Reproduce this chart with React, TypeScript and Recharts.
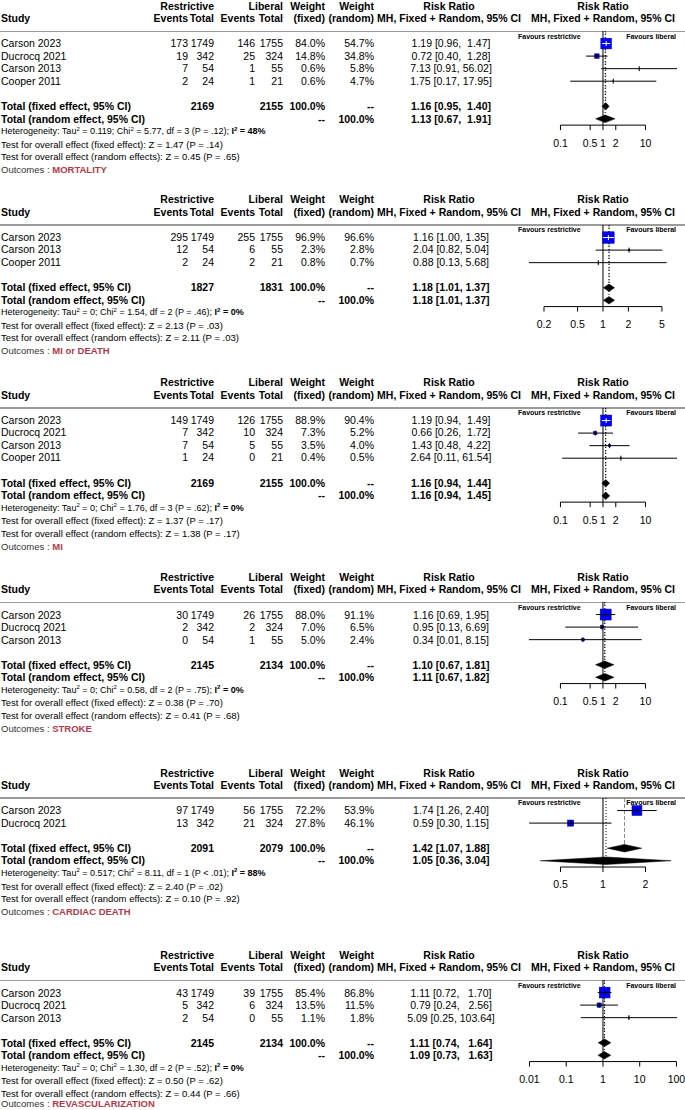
import React from 'react';
import { ScatterChart, Scatter, XAxis, YAxis, ReferenceLine } from 'recharts';

type Study = { name: string; e1: number; n1: number; e2: number; n2: number; wf: number; wr: number; rr: number; lo: number; hi: number };
type Het = { tau: string; chi: string; df: number; p: string; i2: number };
type Tests = { zf: string; pf: string; zr: string; pr: string };

// MORTALITY
const mortalityStudies: Study[] = [
  { name: 'Carson 2023', e1: 173, n1: 1749, e2: 146, n2: 1755, wf: 84.0, wr: 54.7, rr: 1.19, lo: 0.96, hi: 1.47 },
  { name: 'Ducrocq 2021', e1: 19, n1: 342, e2: 25, n2: 324, wf: 14.8, wr: 34.8, rr: 0.72, lo: 0.4, hi: 1.28 },
  { name: 'Carson 2013', e1: 7, n1: 54, e2: 1, n2: 55, wf: 0.6, wr: 5.8, rr: 7.13, lo: 0.91, hi: 56.02 },
  { name: 'Cooper 2011', e1: 2, n1: 24, e2: 1, n2: 21, wf: 0.6, wr: 4.7, rr: 1.75, lo: 0.17, hi: 17.95 },
];
const mortalityFixed = [1.16, 0.95, 1.4];
const mortalityRandom = [1.13, 0.67, 1.91];
const mortalityTicks = [0.1, 0.5, 1, 2, 10];
const mortalityXlim = [0.0182, 55.1];
const mortalityHet: Het = { tau: '0.119', chi: '5.77', df: 3, p: '= .12', i2: 48 };
const mortalityTests: Tests = { zf: '1.47', pf: '.14', zr: '0.45', pr: '.65' };

// MI or DEATH
const miDeathStudies: Study[] = [
  { name: 'Carson 2023', e1: 295, n1: 1749, e2: 255, n2: 1755, wf: 96.9, wr: 96.6, rr: 1.16, lo: 1.0, hi: 1.35 },
  { name: 'Carson 2013', e1: 12, n1: 54, e2: 6, n2: 55, wf: 2.3, wr: 2.8, rr: 2.04, lo: 0.82, hi: 5.04 },
  { name: 'Cooper 2011', e1: 2, n1: 24, e2: 2, n2: 21, wf: 0.8, wr: 0.7, rr: 0.88, lo: 0.13, hi: 5.68 },
];
const miDeathFixed = [1.18, 1.01, 1.37];
const miDeathRandom = [1.18, 1.01, 1.37];
const miDeathTicks = [0.2, 0.5, 1, 2, 5];
const miDeathXlim = [0.1328, 7.53];
const miDeathHet: Het = { tau: '0', chi: '1.54', df: 2, p: '= .46', i2: 0 };
const miDeathTests: Tests = { zf: '2.13', pf: '.03', zr: '2.11', pr: '.03' };

// MI
const miStudies: Study[] = [
  { name: 'Carson 2023', e1: 149, n1: 1749, e2: 126, n2: 1755, wf: 88.9, wr: 90.4, rr: 1.19, lo: 0.94, hi: 1.49 },
  { name: 'Ducrocq 2021', e1: 7, n1: 342, e2: 10, n2: 324, wf: 7.3, wr: 5.2, rr: 0.66, lo: 0.26, hi: 1.72 },
  { name: 'Carson 2013', e1: 7, n1: 54, e2: 5, n2: 55, wf: 3.5, wr: 4.0, rr: 1.43, lo: 0.48, hi: 4.22 },
  { name: 'Cooper 2011', e1: 1, n1: 24, e2: 0, n2: 21, wf: 0.4, wr: 0.5, rr: 2.64, lo: 0.11, hi: 61.54 },
];
const miFixed = [1.16, 0.94, 1.44];
const miRandom = [1.16, 0.94, 1.45];
const miTicks = [0.1, 0.5, 1, 2, 10];
const miXlim = [0.0182, 55.1];
const miHet: Het = { tau: '0', chi: '1.76', df: 3, p: '= .62', i2: 0 };
const miTests: Tests = { zf: '1.37', pf: '.17', zr: '1.38', pr: '.17' };

// STROKE
const strokeStudies: Study[] = [
  { name: 'Carson 2023', e1: 30, n1: 1749, e2: 26, n2: 1755, wf: 88.0, wr: 91.1, rr: 1.16, lo: 0.69, hi: 1.95 },
  { name: 'Ducrocq 2021', e1: 2, n1: 342, e2: 2, n2: 324, wf: 7.0, wr: 6.5, rr: 0.95, lo: 0.13, hi: 6.69 },
  { name: 'Carson 2013', e1: 0, n1: 54, e2: 1, n2: 55, wf: 5.0, wr: 2.4, rr: 0.34, lo: 0.01, hi: 8.15 },
];
const strokeFixed = [1.1, 0.67, 1.81];
const strokeRandom = [1.11, 0.67, 1.82];
const strokeTicks = [0.1, 0.5, 1, 2, 10];
const strokeXlim = [0.0182, 55.1];
const strokeHet: Het = { tau: '0', chi: '0.58', df: 2, p: '= .75', i2: 0 };
const strokeTests: Tests = { zf: '0.38', pf: '.70', zr: '0.41', pr: '.68' };

// CARDIAC DEATH
const cardiacStudies: Study[] = [
  { name: 'Carson 2023', e1: 97, n1: 1749, e2: 56, n2: 1755, wf: 72.2, wr: 53.9, rr: 1.74, lo: 1.26, hi: 2.4 },
  { name: 'Ducrocq 2021', e1: 13, n1: 342, e2: 21, n2: 324, wf: 27.8, wr: 46.1, rr: 0.59, lo: 0.3, hi: 1.15 },
];
const cardiacFixed = [1.42, 1.07, 1.88];
const cardiacRandom = [1.05, 0.36, 3.04];
const cardiacTicks = [0.5, 1, 2];
const cardiacXlim = [0.2992, 3.342];
const cardiacHet: Het = { tau: '0.517', chi: '8.11', df: 1, p: '< .01', i2: 88 };
const cardiacTests: Tests = { zf: '2.40', pf: '.02', zr: '0.10', pr: '.92' };

// REVASCULARIZATION
const revascStudies: Study[] = [
  { name: 'Carson 2023', e1: 43, n1: 1749, e2: 39, n2: 1755, wf: 85.4, wr: 86.8, rr: 1.11, lo: 0.72, hi: 1.7 },
  { name: 'Ducrocq 2021', e1: 5, n1: 342, e2: 6, n2: 324, wf: 13.5, wr: 11.5, rr: 0.79, lo: 0.24, hi: 2.56 },
  { name: 'Carson 2013', e1: 2, n1: 54, e2: 0, n2: 55, wf: 1.1, wr: 1.8, rr: 5.09, lo: 0.25, hi: 103.64 },
];
const revascFixed = [1.11, 0.74, 1.64];
const revascRandom = [1.09, 0.73, 1.63];
const revascTicks = [0.01, 0.1, 1, 10, 100];
const revascXlim = [0.00969, 103.2];
const revascHet: Het = { tau: '0', chi: '1.30', df: 2, p: '= .52', i2: 0 };
const revascTests: Tests = { zf: '0.50', pf: '.62', zr: '0.44', pr: '.66' };

const panels = [
  { outcome: 'MORTALITY', studies: mortalityStudies, fixed: mortalityFixed, random: mortalityRandom, ticks: mortalityTicks, xlim: mortalityXlim, het: mortalityHet, tests: mortalityTests },
  { outcome: 'MI or DEATH', studies: miDeathStudies, fixed: miDeathFixed, random: miDeathRandom, ticks: miDeathTicks, xlim: miDeathXlim, het: miDeathHet, tests: miDeathTests },
  { outcome: 'MI', studies: miStudies, fixed: miFixed, random: miRandom, ticks: miTicks, xlim: miXlim, het: miHet, tests: miTests },
  { outcome: 'STROKE', studies: strokeStudies, fixed: strokeFixed, random: strokeRandom, ticks: strokeTicks, xlim: strokeXlim, het: strokeHet, tests: strokeTests },
  { outcome: 'CARDIAC DEATH', studies: cardiacStudies, fixed: cardiacFixed, random: cardiacRandom, ticks: cardiacTicks, xlim: cardiacXlim, het: cardiacHet, tests: cardiacTests },
  { outcome: 'REVASCULARIZATION', studies: revascStudies, fixed: revascFixed, random: revascRandom, ticks: revascTicks, xlim: revascXlim, het: revascHet, tests: revascTests },
];
type PanelData = (typeof panels)[number];

// layout
const W = 685;
const H = 1110;
const R = 12.55; // row step
const PANEL_Y = [43.8, 237.3, 420.3, 615, 810.7, 993]; // y of first study row
const COL = { ev1: 188, tot1: 214, ev2: 255, tot2: 283, wf: 325, wr: 374, rr: 451, plot: 603 };
const PLOT_L = 529;
const PLOT_R = 677;
const SQ = 1.17; // square side per sqrt(weight)
const DH = 0.3; // diamond half height, in rows
const FONT = '"Liberation Sans", Arial, Helvetica, sans-serif';
const RED = '#b03a4a';
const LH = 9;

const Txt = ({ x, y, a = 'l', b = false, size = 10.5, color = '#000', children }: any) => {
  const style: React.CSSProperties = {
    position: 'absolute', top: y - LH / 2, height: LH, lineHeight: `${LH}px`,
    fontSize: size, fontWeight: b ? 'bold' : 'normal', color, whiteSpace: 'pre',
  };
  if (a === 'l') style.left = x;
  else if (a === 'r') style.right = W - x;
  else { style.left = x - 150; style.width = 300; style.textAlign = 'center'; }
  return <div style={style}>{children}</div>;
};

const Sup = ({ children }: any) => (
  <span style={{ fontSize: 6, position: 'relative', top: -3.5 }}>{children}</span>
);

const Nothing = () => <g />;

const Square = (props: any) => {
  const s = SQ * Math.sqrt(props.payload.w);
  return <rect x={props.cx - s / 2} y={props.cy - s / 2} width={s} height={s} fill="#0000ff" stroke="#000080" strokeWidth={0.5} />;
};

function renderCI(lp: any, studies: Study[]) {
  const pts = lp.points || [];
  return (
    <g>
      {studies.map((s, i) => {
        const a = pts[3 * i], m = pts[3 * i + 1], b = pts[3 * i + 2];
        if (!a || !m || !b) return null;
        const h = (SQ * Math.sqrt(s.wf)) / 2;
        const c = a.x >= m.x - h && b.x <= m.x + h ? '#fff' : '#000';
        return (
          <g key={i}>
            <line x1={a.x} x2={b.x} y1={a.y} y2={a.y} stroke={c} strokeWidth={1} />
            <line x1={m.x} x2={m.x} y1={m.y - 2.5} y2={m.y + 2.5} stroke={c} strokeWidth={1} />
          </g>
        );
      })}
    </g>
  );
}

function renderDiamonds(lp: any) {
  const pts = lp.points || [];
  const out: React.ReactNode[] = [];
  for (let i = 0; i + 3 < pts.length; i += 4) {
    const poly = pts.slice(i, i + 4).map((q: any) => `${q.x},${q.y}`).join(' ');
    out.push(<polygon key={i} points={poly} fill="#000" stroke="#000" strokeWidth={0.5} />);
  }
  return <g>{out}</g>;
}

function ForestChart({ p, y0 }: { p: PanelData; y0: number }) {
  const n = p.studies.length;
  const plotH = (n + 3.5) * R;
  const sqData = p.studies.map((s, i) => ({ x: s.rr, y: i, w: s.wf }));
  const ciData = p.studies.flatMap((s, i) => [{ x: s.lo, y: i }, { x: s.rr, y: i }, { x: s.hi, y: i }]);
  const dmData = [p.fixed, p.random].flatMap((c, k) => {
    const r = n + 1 + k;
    return [{ x: c[1], y: r }, { x: c[0], y: r - DH }, { x: c[2], y: r }, { x: c[0], y: r + DH }];
  });
  const last = p.ticks[p.ticks.length - 1];
  return (
    <div style={{ position: 'absolute', left: 0, top: y0 - R - 3 }}>
      <ScatterChart width={W} height={3 + plotH + 30} margin={{ top: 3, right: W - PLOT_R, bottom: 0, left: PLOT_L }}>
        <XAxis
          type="number" dataKey="x" scale="log" domain={p.xlim} allowDataOverflow
          ticks={p.ticks} interval={0} axisLine={false} tickLine={{ stroke: '#000' }}
          tickSize={5} tickMargin={9} height={30}
          tick={{ fill: '#000', fontSize: 10.5, fontFamily: FONT }}
        />
        <YAxis type="number" dataKey="y" domain={[-1, n + 2.5]} reversed hide />
        <ReferenceLine x={1} stroke="#000" />
        <ReferenceLine segment={[{ x: p.fixed[0], y: -1 }, { x: p.fixed[0], y: n + 1 }]} stroke="#888" strokeDasharray="4 2" />
        <ReferenceLine segment={[{ x: p.random[0], y: -1 }, { x: p.random[0], y: n + 2 }]} stroke="#000" strokeDasharray="1 2" />
        <ReferenceLine segment={[{ x: p.ticks[0], y: n + 2.5 }, { x: last, y: n + 2.5 }]} stroke="#000" ifOverflow="visible" />
        <Scatter data={sqData} shape={Square} isAnimationActive={false} />
        <Scatter data={ciData} shape={Nothing} line={(lp: any) => renderCI(lp, p.studies)} isAnimationActive={false} />
        <Scatter data={dmData} shape={Nothing} line={renderDiamonds} isAnimationActive={false} />
      </ScatterChart>
    </div>
  );
}

function Panel({ p, y0 }: { p: PanelData; y0: number }) {
  const n = p.studies.length;
  const row = (r: number) => y0 + r * R;
  const hiW = Math.max(...[...p.studies.map((s) => s.hi), p.fixed[2], p.random[2]].map((v) => v.toFixed(2).length));
  const rr = (e: number, l: number, h: number) => `${e.toFixed(2)} [${l.toFixed(2)}, ${h.toFixed(2).padStart(hiW)}]`;
  const t1 = p.studies.reduce((acc, s) => acc + s.n1, 0);
  const t2 = p.studies.reduce((acc, s) => acc + s.n2, 0);
  const fr = n + 1;
  const rd = n + 2;
  return (
    <>
      <Txt x={COL.tot1} y={row(-3)} a="r" b>Restrictive</Txt>
      <Txt x={COL.tot2} y={row(-3)} a="r" b>Liberal</Txt>
      <Txt x={COL.wf} y={row(-3)} a="r" b>Weight</Txt>
      <Txt x={COL.wr} y={row(-3)} a="r" b>Weight</Txt>
      <Txt x={449} y={row(-3)} a="c" b>Risk Ratio</Txt>
      <Txt x={COL.plot} y={row(-3)} a="c" b>Risk Ratio</Txt>
      <Txt x={1} y={row(-2)} b>Study</Txt>
      <Txt x={COL.ev1} y={row(-2)} a="r" b>Events</Txt>
      <Txt x={COL.tot1} y={row(-2)} a="r" b>Total</Txt>
      <Txt x={COL.ev2} y={row(-2)} a="r" b>Events</Txt>
      <Txt x={COL.tot2} y={row(-2)} a="r" b>Total</Txt>
      <Txt x={COL.wf} y={row(-2)} a="r" b>(fixed)</Txt>
      <Txt x={COL.wr} y={row(-2)} a="r" b>(random)</Txt>
      <Txt x={449} y={row(-2)} a="c" b>MH, Fixed + Random, 95% CI</Txt>
      <Txt x={COL.plot} y={row(-2)} a="c" b>MH, Fixed + Random, 95% CI</Txt>
      <div style={{ position: 'absolute', left: 0, width: W, top: row(-1) - 0.75, height: 1.5, background: '#9a9a9a' }} />
      <Txt x={518} y={row(-0.62)} b size={7}>Favours restrictive</Txt>
      <Txt x={676} y={row(-0.62)} a="r" b size={7}>Favours liberal</Txt>
      {p.studies.map((s, i) => (
        <React.Fragment key={s.name}>
          <Txt x={1} y={row(i)}>{s.name}</Txt>
          <Txt x={COL.ev1} y={row(i)} a="r">{s.e1}</Txt>
          <Txt x={COL.tot1} y={row(i)} a="r">{s.n1}</Txt>
          <Txt x={COL.ev2} y={row(i)} a="r">{s.e2}</Txt>
          <Txt x={COL.tot2} y={row(i)} a="r">{s.n2}</Txt>
          <Txt x={COL.wf} y={row(i)} a="r">{s.wf.toFixed(1)}%</Txt>
          <Txt x={COL.wr} y={row(i)} a="r">{s.wr.toFixed(1)}%</Txt>
          <Txt x={COL.rr} y={row(i)} a="c">{rr(s.rr, s.lo, s.hi)}</Txt>
        </React.Fragment>
      ))}
      <Txt x={1} y={row(fr)} b>Total (fixed effect, 95% CI)</Txt>
      <Txt x={COL.tot1} y={row(fr)} a="r" b>{t1}</Txt>
      <Txt x={COL.tot2} y={row(fr)} a="r" b>{t2}</Txt>
      <Txt x={COL.wf} y={row(fr)} a="r" b>100.0%</Txt>
      <Txt x={COL.wr} y={row(fr)} a="r" b>--</Txt>
      <Txt x={COL.rr} y={row(fr)} a="c" b>{rr(p.fixed[0], p.fixed[1], p.fixed[2])}</Txt>
      <Txt x={1} y={row(rd)} b>Total (random effect, 95% CI)</Txt>
      <Txt x={COL.wf} y={row(rd)} a="r" b>--</Txt>
      <Txt x={COL.wr} y={row(rd)} a="r" b>100.0%</Txt>
      <Txt x={COL.rr} y={row(rd)} a="c" b>{rr(p.random[0], p.random[1], p.random[2])}</Txt>
      <Txt x={1} y={row(n + 3)} size={9}>
        Heterogeneity: Tau<Sup>2</Sup> = {p.het.tau}; Chi<Sup>2</Sup> = {p.het.chi}, df = {p.het.df} (P {p.het.p});{' '}
        <b>I<Sup>2</Sup> = {p.het.i2}%</b>
      </Txt>
      <Txt x={1} y={row(n + 4)} size={9.5}>Test for overall effect (fixed effect): Z = {p.tests.zf} (P = {p.tests.pf})</Txt>
      <Txt x={1} y={row(n + 5)} size={9.5}>Test for overall effect (random effects): Z = {p.tests.zr} (P = {p.tests.pr})</Txt>
      <Txt x={1} y={Math.min(row(n + 6) + 0.5, H - 6.5)} size={9.5} color="#333">
        Outcomes : <b style={{ color: RED }}>{p.outcome}</b>
      </Txt>
      <ForestChart p={p} y0={y0} />
    </>
  );
}

export default function App() {
  return (
    <div style={{ position: 'absolute', left: 0, top: 0, width: W, height: H, background: '#fff', fontFamily: FONT, overflow: 'hidden' }}>
      {panels.map((p, i) => (
        <Panel key={p.outcome} p={p} y0={PANEL_Y[i]} />
      ))}
    </div>
  );
}
